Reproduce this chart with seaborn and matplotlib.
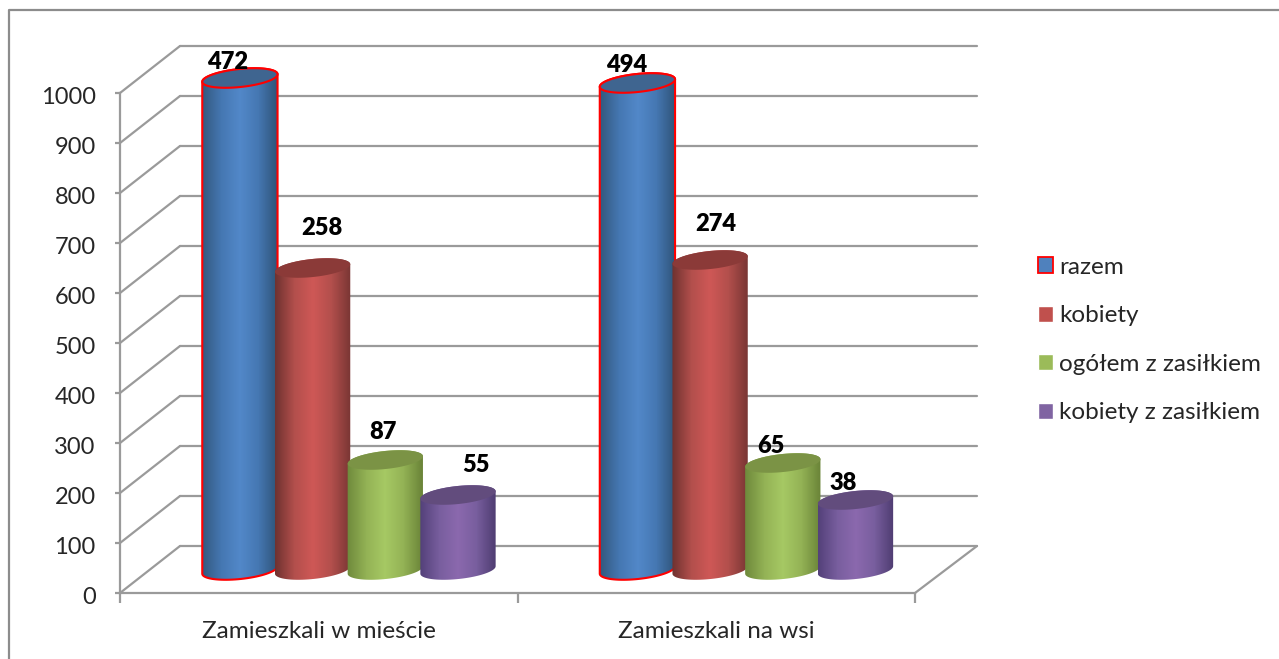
import numpy as np
import pandas as pd
import seaborn as sns
import matplotlib.pyplot as plt
from matplotlib.colors import LinearSegmentedColormap
from matplotlib.lines import Line2D
from matplotlib.patches import Patch, Polygon
from matplotlib.transforms import Affine2D

# data
places = ["Zamieszkali w mieście", "Zamieszkali na wsi"]
groups = ["razem", "kobiety", "ogółem z zasiłkiem", "kobiety z zasiłkiem"]
razem = [984, 974]
kobiety = [604, 620]
ogolem_zas = [220, 214]
kobiety_zas = [150, 140]
# the printed labels do not follow the bar heights in the original
labels_razem = [472, 494]
labels_kobiety = [258, 274]
labels_ogolem_zas = [87, 65]
labels_kobiety_zas = [55, 38]
y_ticks = list(range(0, 1001, 100))

df = pd.DataFrame({
    "place": places * 4,
    "group": np.repeat(groups, 2),
    "value": razem + kobiety + ogolem_zas + kobiety_zas,
})
bar_labels = labels_razem + labels_kobiety + labels_ogolem_zas + labels_kobiety_zas

# label shift from the cylinder top, pixels, same order as bar_labels
label_shift = [(-12, 16), (-11, 18), (9, 40), (6, 36), (-2, 28), (-12, 17), (18, 30), (-12, 17)]

swatch = ["#4f81bd", "#c0504d", "#9bbb59", "#8064a2"]
shades = [
    ("#33597f", "#4577b2", "#5288c9", "#4577b2", "#2f5478"),
    ("#703230", "#b24f4c", "#cf5856", "#b24f4c", "#7a3634"),
    ("#6f8a3c", "#93b255", "#a6c964", "#93b255", "#6a8438"),
    ("#54417a", "#785e9e", "#8b69ae", "#785e9e", "#4f3d72"),
]
lids = ["#3f6590", "#8b3a38", "#7b9345", "#624c7d"]
grey = "#9a9a9a"

W, H = 1279, 659
fig = plt.figure(figsize=(W / 100, H / 100), dpi=100)
sns.set_style("white")
plt.rcParams["font.family"] = ["Lato", "DejaVu Sans"]

ax = fig.add_axes([120 / W, 1 - 593 / H, 795 / W, 500 / H])
sns.barplot(data=df, x="place", y="value", hue="group", hue_order=groups, order=places,
            width=0.7315, gap=0, palette=swatch, legend=False, ax=ax)

px_x = 795 / 2  # pixels per category
px_y = 0.5      # pixels per unit
depth_x = 62 / px_x
depth_y = 47 / px_y

# back wall and floor
for v in y_ticks:
    ax.plot([-0.5, -0.5 + 60 / px_x], [v, v + depth_y], color=grey, lw=1.6, clip_on=False, zorder=1)
    ax.plot([-0.5 + 60 / px_x, 1.5 + depth_x], [v + depth_y, v + depth_y], color=grey, lw=1.6, clip_on=False, zorder=1)
ax.plot([1.5, 1.5 + depth_x], [0, depth_y], color=grey, lw=1.6, clip_on=False, zorder=1)


def tilted(cx, cy, a, b, t, th=np.radians(6)):
    ex = a * np.cos(t) * np.cos(th) - b * np.sin(t) * np.sin(th)
    ey = a * np.cos(t) * np.sin(th) + b * np.sin(t) * np.cos(th)
    return np.column_stack([cx + ex / px_x, cy + ey / px_y])


bars = [p for p in ax.patches if p.get_height() > 0]
z = 3
for g in range(4):
    cmap = LinearSegmentedColormap.from_list("c", shades[g])
    for k in range(2):
        n = g * 2 + k
        p = sorted(bars, key=lambda r: r.get_x())[k * 4 + g]
        p.set_visible(False)
        cx = p.get_x() + p.get_width() / 2 + 30.2 / px_x
        base = 23 / px_y
        top = base + p.get_height()
        a = p.get_width() * px_x / 2 + 1.5
        b = 9.0
        th = np.radians(6)
        t0 = np.arctan2(-b * np.sin(th), a * np.cos(th))
        body = np.vstack([tilted(cx, base, a, b, np.linspace(t0 - np.pi, t0, 40)),
                          tilted(cx, top, a, b, np.linspace(t0, t0 + np.pi, 40))])
        clip = Polygon(body, closed=True, transform=ax.transData)
        im = ax.imshow(np.linspace(0, 1, 64).reshape(1, -1), cmap=cmap, aspect="auto",
                       extent=[cx - a / px_x, cx + a / px_x, base - 30, top + 30], zorder=z)
        im.set_clip_box(fig.bbox)
        im.set_clip_path(clip)
        lid = tilted(cx, top, a, b, np.linspace(0, 2 * np.pi, 80))
        edge = "#ff0000" if g == 0 else "none"
        if g == 0:
            ax.add_patch(Polygon(body, closed=True, facecolor="none", edgecolor=edge, lw=1.5, zorder=z + 0.1, clip_on=False))
        ax.add_patch(Polygon(lid, closed=True, facecolor=lids[g], edgecolor=edge, lw=1.5, zorder=z + 0.2, clip_on=False))
        ax.annotate(str(bar_labels[n]), (cx, top), xytext=label_shift[n], textcoords="offset pixels",
                    ha="center", va="center", fontsize=17, fontweight="heavy", color="black",
                    zorder=20, annotation_clip=False)
        z += 1

ax.set_xlim(-0.5, 1.5)
ax.set_ylim(0, 1000)
ax.set_xlabel("")
ax.set_ylabel("")
ax.set_yticks(y_ticks)
ax.set_xticks([-0.5, 0.5, 1.5])
ax.set_xticklabels([])
ax.set_xticks([0, 1], labels=places, minor=True)
ax.tick_params(axis="y", length=3.6, width=1.6, color=grey, pad=14, labelsize=17, left=True)
ax.tick_params(axis="x", which="major", length=7, width=1.6, color=grey, bottom=True)
ax.tick_params(axis="x", which="minor", length=0, pad=20, labelsize=17.5)
down = Affine2D().translate(0, -3)
for lab in ax.get_yticklabels():
    lab.set_transform(lab.get_transform() + down)
for s in ["top", "right"]:
    ax.spines[s].set_visible(False)
for s in ["left", "bottom"]:
    ax.spines[s].set_color(grey)
    ax.spines[s].set_linewidth(1.6)
    ax.spines[s].set_zorder(2)
ax.patch.set_alpha(0)

handles = [Patch(facecolor=swatch[0], edgecolor="#ff0000", lw=1.3)] + [Patch(facecolor=c) for c in swatch[1:]]
fig.legend(handles, groups, loc="center left", bbox_to_anchor=(1038 / W, 1 - 340 / H), frameon=False,
           fontsize=17.5, handlelength=0.62, handleheight=0.62, handletextpad=0.25, labelspacing=1.13,
           borderpad=0, borderaxespad=0)

# chart frame, only top and left survive the crop
fig.add_artist(Line2D([9 / W, 9 / W, 1], [0, 1 - 10 / H, 1 - 10 / H], color="#8c8c8c", lw=1.6))

fig.savefig("out.png", dpi=100)
